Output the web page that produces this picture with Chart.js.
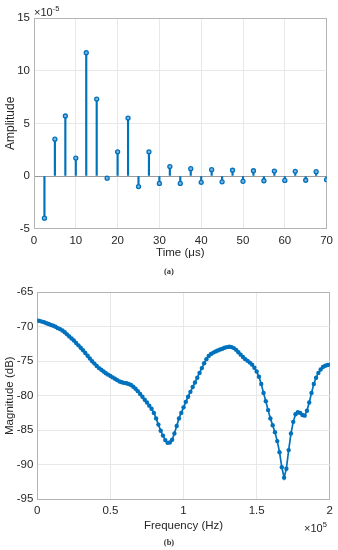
<!DOCTYPE html>
<html>
<head>
<meta charset="utf-8">
<script src="https://cdn.jsdelivr.net/npm/chart.js@4"></script>
<style>
  body { margin: 0; background: #fff; }
  #wrap { position: relative; width: 338px; height: 550px; font-family: "Liberation Sans", Arial, sans-serif; color: #262626; }
  canvas { position: absolute; left: 0; }
  .cap { position: absolute; width: 338px; text-align: center; font-family: "Liberation Serif", "DejaVu Serif", serif; font-weight: bold; font-size: 8.5px; color: #333; }
  .expo { position: absolute; font-size: 11px; color: #262626; }
  .expo sup { font-size: 7.5px; vertical-align: 5px; }
</style>
</head>
<body>
<div id="wrap">
  <canvas id="stem_chart" width="338" height="262" style="top:0"></canvas>
  <canvas id="mag_chart" width="338" height="288" style="top:262px"></canvas>
  <div class="expo" style="left:34px;top:4px">&times;10<sup>-5</sup></div>
  <div class="cap" style="left:0;top:266px">(a)</div>
  <div class="expo" style="left:304px;top:520px">&times;10<sup>5</sup></div>
  <div class="cap" style="left:0;top:537px">(b)</div>
</div>
<script>
// (a) impulse response, amplitude in units of 1e-5
const times = [2.5, 5, 7.5, 10, 12.5, 15, 17.5, 20, 22.5, 25, 27.5, 30, 32.5, 35,
  37.5, 40, 42.5, 45, 47.5, 50, 52.5, 55, 57.5, 60, 62.5, 65, 67.5, 70];
const amplitudes = [-4.0, 3.5, 5.7, 1.7, 11.7, 7.3, -0.2, 2.3, 5.5, -1.0, 2.3, -0.7, 0.9, -0.7,
  0.7, -0.6, 0.6, -0.55, 0.55, -0.5, 0.5, -0.45, 0.47, -0.42, 0.45, -0.4, 0.41, -0.35];
const timeTicks = [0, 10, 20, 30, 40, 50, 60, 70];
const ampTicks = [-5, 0, 5, 10, 15];

// (b) magnitude spectrum, frequency in units of 1e5 Hz
const sampleRate = 4; // 400 kHz (2.5 us steps)
const fftSize = 256;
const magnitudes = [
  -69.1, -69.15, -69.25, -69.35, -69.5, -69.6, -69.75, -69.85, -70.0, -70.2,
  -70.35, -70.55, -70.8, -71.1, -71.4, -71.7, -72.0, -72.35, -72.7, -73.05,
  -73.4, -73.8, -74.2, -74.6, -75.0, -75.35, -75.7, -76.0, -76.25, -76.5,
  -76.75, -76.95, -77.15, -77.35, -77.55, -77.75, -77.95, -78.05, -78.15, -78.2,
  -78.3, -78.45, -78.7, -79.0, -79.35, -79.75, -80.15, -80.6, -81.0, -81.45,
  -81.9, -82.5, -83.3, -84.2, -85.1, -85.8, -86.45, -86.85, -86.8, -86.4,
  -85.5, -84.4, -83.3, -82.5, -81.7, -80.9, -80.15, -79.45, -78.75, -78.1,
  -77.4, -76.7, -76.0, -75.3, -74.7, -74.25, -73.95, -73.75, -73.6, -73.45,
  -73.3, -73.2, -73.05, -72.95, -72.9, -72.95, -73.1, -73.35, -73.7, -74.05,
  -74.4, -74.7, -74.95, -75.2, -75.5, -75.95, -76.5, -77.25, -78.3, -79.6,
  -80.8, -82.1, -83.3, -84.3, -85.3, -86.6, -88.2, -90.4, -91.9, -90.6,
  -87.9, -85.5, -83.8, -82.7, -82.4, -82.5, -82.8, -82.9, -82.2, -81.0,
  -79.6, -78.3, -77.4, -76.7, -76.2, -75.85, -75.65, -75.55, -75.5
];
const freqBins = magnitudes.map((_, k) => (k * sampleRate) / fftSize);
const freqTicks = [0, 0.5, 1, 1.5, 2];
const magTicks = [-95, -90, -85, -80, -75, -70, -65];

const BLUE = "#0072BD";
const GRID = "#e8e8e8";
const EDGE = "#b4b4b4";
const TEXT = "#262626";
const FONT = "'Liberation Sans', Arial, sans-serif";

Chart.defaults.font.family = FONT;
Chart.defaults.color = TEXT;

function edgeGrid(ticks) {
  return (c) => (c.index === ticks.length - 1 ? EDGE : GRID);
}

function plain(value) {
  return String(value);
}

function createStemChart() {
  const ctx = document.getElementById("stem_chart");
  const pts = times.map((t, i) => ({ x: t, y: amplitudes[i] }));
  return new Chart(ctx, {
    type: "bar",
    data: {
      datasets: [
        {
          type: "line",
          data: pts,
          showLine: false,
          pointRadius: 2,
          pointBorderWidth: 1.3,
          pointBorderColor: BLUE,
          pointBackgroundColor: "#7fb3dc",
          order: 0,
        },
        {
          type: "bar",
          data: pts,
          backgroundColor: BLUE,
          barThickness: 1.5,
          order: 1,
        },
      ],
    },
    options: {
      responsive: false,
      animation: false,
      devicePixelRatio: 1,
      layout: { padding: { top: 18, right: 10, left: 0, bottom: 0 } },
      plugins: { legend: { display: false }, tooltip: { enabled: false } },
      scales: {
        x: {
          type: "linear",
          min: 0,
          max: 70,
          offset: false,
          afterBuildTicks: (s) => { s.ticks = timeTicks.map((v) => ({ value: v })); },
          afterFit: (s) => { s.height = 33.3; },
          grid: { color: edgeGrid(timeTicks), drawTicks: false, offset: false },
          border: { color: EDGE },
          ticks: { padding: 5, font: { size: 11.5 }, maxRotation: 0, callback: plain },
          title: { display: true, text: "Time (μs)", font: { size: 11.5 }, padding: { top: 0, bottom: 2 } },
        },
        y: {
          min: -5,
          max: 15,
          afterBuildTicks: (s) => { s.ticks = ampTicks.map((v) => ({ value: v })); },
          afterFit: (s) => { s.width = 34; },
          grid: {
            color: (c) => (c.index === ampTicks.length - 1 ? EDGE : c.tick && c.tick.value === 0 ? "#9a9a9a" : GRID),
            drawTicks: false,
          },
          border: { color: EDGE },
          ticks: { padding: 4, font: { size: 11.5 }, callback: plain },
          title: { display: true, text: "Amplitude", font: { size: 12 }, padding: { top: 3, bottom: 0 } },
        },
      },
    },
  });
}

function createMagnitudeChart() {
  const ctx = document.getElementById("mag_chart");
  return new Chart(ctx, {
    type: "line",
    data: {
      datasets: [
        {
          data: freqBins.map((f, i) => ({ x: f, y: magnitudes[i] })),
          borderColor: BLUE,
          borderWidth: 1.7,
          pointRadius: 2.2,
          pointBorderWidth: 0,
          pointBackgroundColor: BLUE,
        },
      ],
    },
    options: {
      responsive: false,
      animation: false,
      devicePixelRatio: 1,
      layout: { padding: { top: 30.3, right: 7.3, left: 0, bottom: 0 } },
      plugins: { legend: { display: false }, tooltip: { enabled: false } },
      scales: {
        x: {
          type: "linear",
          min: 0,
          max: 2,
          afterBuildTicks: (s) => { s.ticks = freqTicks.map((v) => ({ value: v })); },
          afterFit: (s) => { s.height = 51; },
          grid: { color: edgeGrid(freqTicks), drawTicks: false },
          border: { color: EDGE },
          ticks: { padding: 5, font: { size: 11.5 }, maxRotation: 0, callback: plain },
          title: { display: true, text: "Frequency (Hz)", font: { size: 11.5 }, padding: { top: 0, bottom: 17 } },
        },
        y: {
          min: -95,
          max: -65,
          afterBuildTicks: (s) => { s.ticks = magTicks.map((v) => ({ value: v })); },
          afterFit: (s) => { s.width = 37.3; },
          grid: { color: edgeGrid(magTicks), drawTicks: false },
          border: { color: EDGE },
          ticks: { padding: 4, font: { size: 11.5 }, callback: plain },
          title: { display: true, text: "Magnitude (dB)", font: { size: 11.5 }, padding: { top: 3, bottom: 0 } },
        },
      },
    },
  });
}

createStemChart();
createMagnitudeChart();
</script>
</body>
</html>
